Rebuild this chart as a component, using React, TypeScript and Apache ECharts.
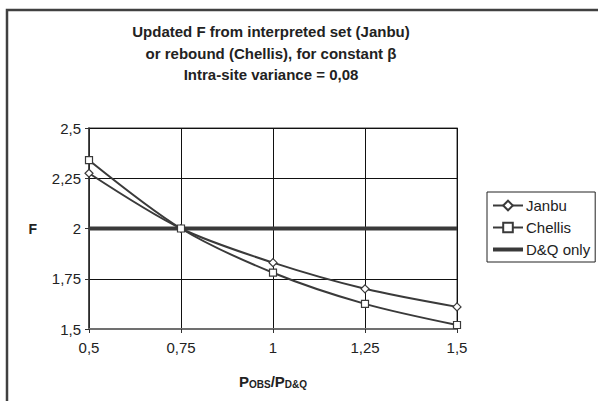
import React, { useEffect, useRef } from "react";
import * as echarts from "echarts";

const xValues = [0.5, 0.75, 1, 1.25, 1.5];
const janbu = [2.275, 2.0, 1.83, 1.70, 1.61];
const chellis = [2.34, 2.0, 1.78, 1.625, 1.52];
const dqOnly = [2.0, 2.0];
const dqX = [0.5, 1.5];
const seriesNames = ["Janbu", "Chellis", "D&Q only"];
const titleLines = [
  "Updated F from interpreted set (Janbu)",
  "or rebound (Chellis), for constant β",
  "Intra-site variance = 0,08",
];

const fmt = (v: number) => String(v).replace(".", ",");
const FONT = "'Liberation Sans', Arial, sans-serif";

export default function App() {
  const ref = useRef<HTMLDivElement>(null);
  useEffect(() => {
    if (!ref.current) return;
    const chart = echarts.init(ref.current, undefined, { renderer: "svg" });
    const lineColor = "#3a3a3a";
    chart.setOption({
      animation: false,
      backgroundColor: "#ffffff",
      textStyle: { fontFamily: FONT },
      title: {
        text: titleLines.join("\n"),
        left: 266,
        top: 16,
        textAlign: "center",
        textStyle: {
          fontFamily: FONT,
          fontSize: 15,
          fontWeight: "bold",
          color: "#222",
          lineHeight: 21.5,
        },
      },
      graphic: [
        {
          type: "rect",
          shape: { x: 7, y: 10, width: 600, height: 400 },
          style: { fill: "none", stroke: "#404040", lineWidth: 2.5 },
          silent: true,
        },
      ],
      legend: {
        orient: "vertical",
        left: 487,
        top: 192,
        width: 100,
        padding: [6, 5, 5, 5],
        itemGap: 7,
        itemWidth: 30,
        itemHeight: 12,
        borderColor: "#222",
        borderWidth: 1,
        borderRadius: 0,
        data: [
          { name: seriesNames[0] },
          { name: seriesNames[1] },
          { name: seriesNames[2], icon: "path://M0,0 L30,0 L30,4 L0,4 Z", itemStyle: { color: "#3a3a3a" } },
        ],
        textStyle: { fontFamily: FONT, fontSize: 15, color: "#222", padding: [0, 0, 0, -2] },
      },
      grid: {
        left: 89,
        right: 141,
        top: 128,
        bottom: 72,
        show: true,
        borderColor: "#808080",
        borderWidth: 1.5,
      },
      xAxis: {
        type: "value",
        min: 0.5,
        max: 1.5,
        interval: 0.25,
        name: "{a|P}{b|OBS}{a|/P}{b|D&Q}",
        nameLocation: "middle",
        nameGap: 45,
        nameTextStyle: {
          rich: {
            a: { fontFamily: FONT, fontSize: 15, fontWeight: "bold", color: "#222", verticalAlign: "bottom" },
            b: { fontFamily: FONT, fontSize: 10, fontWeight: "bold", color: "#222", verticalAlign: "bottom" },
          },
        },
        axisLine: { show: true, lineStyle: { color: "#707070", width: 2 } },
        axisTick: { show: true, length: 4, lineStyle: { color: "#333" } },
        axisLabel: { formatter: fmt, fontFamily: FONT, fontSize: 15, color: "#222", margin: 11 },
        splitLine: { show: true, lineStyle: { color: "#111", width: 1 } },
      },
      yAxis: {
        type: "value",
        min: 1.5,
        max: 2.5,
        interval: 0.25,
        name: "F",
        nameLocation: "middle",
        nameGap: 52,
        nameRotate: 0,
        nameTextStyle: { fontFamily: FONT, fontSize: 14, fontWeight: "bold", color: "#222" },
        axisLine: { show: true, lineStyle: { color: "#333", width: 1.5 } },
        axisTick: { show: true, length: 4, lineStyle: { color: "#333" } },
        axisLabel: { formatter: fmt, fontFamily: FONT, fontSize: 15, color: "#222", margin: 8 },
        splitLine: { show: true, lineStyle: { color: "#111", width: 1 } },
      },
      series: [
        {
          name: seriesNames[0],
          type: "line",
          smooth: 0.3,
          data: xValues.map((x, i) => [x, janbu[i]]),
          symbol: "diamond",
          symbolSize: 8,
          itemStyle: { color: "#ffffff", borderColor: lineColor, borderWidth: 1.2 },
          lineStyle: { color: lineColor, width: 2 },
          z: 3,
        },
        {
          name: seriesNames[1],
          type: "line",
          smooth: 0.3,
          data: xValues.map((x, i) => [x, chellis[i]]),
          symbol: "rect",
          symbolSize: 7,
          itemStyle: { color: "#ffffff", borderColor: lineColor, borderWidth: 1.2 },
          lineStyle: { color: lineColor, width: 2 },
          z: 3,
        },
        {
          name: seriesNames[2],
          type: "line",
          data: dqX.map((x, i) => [x, dqOnly[i]]),
          symbol: "none",
          itemStyle: { color: "#3a3a3a" },
          lineStyle: { color: "#3a3a3a", width: 4 },
          z: 2,
        },
      ],
    });
    return () => chart.dispose();
  }, []);
  return (
    <div
      ref={ref}
      style={{ position: "fixed", left: 0, top: 0, width: 598, height: 401, background: "#fff" }}
    />
  );
}
